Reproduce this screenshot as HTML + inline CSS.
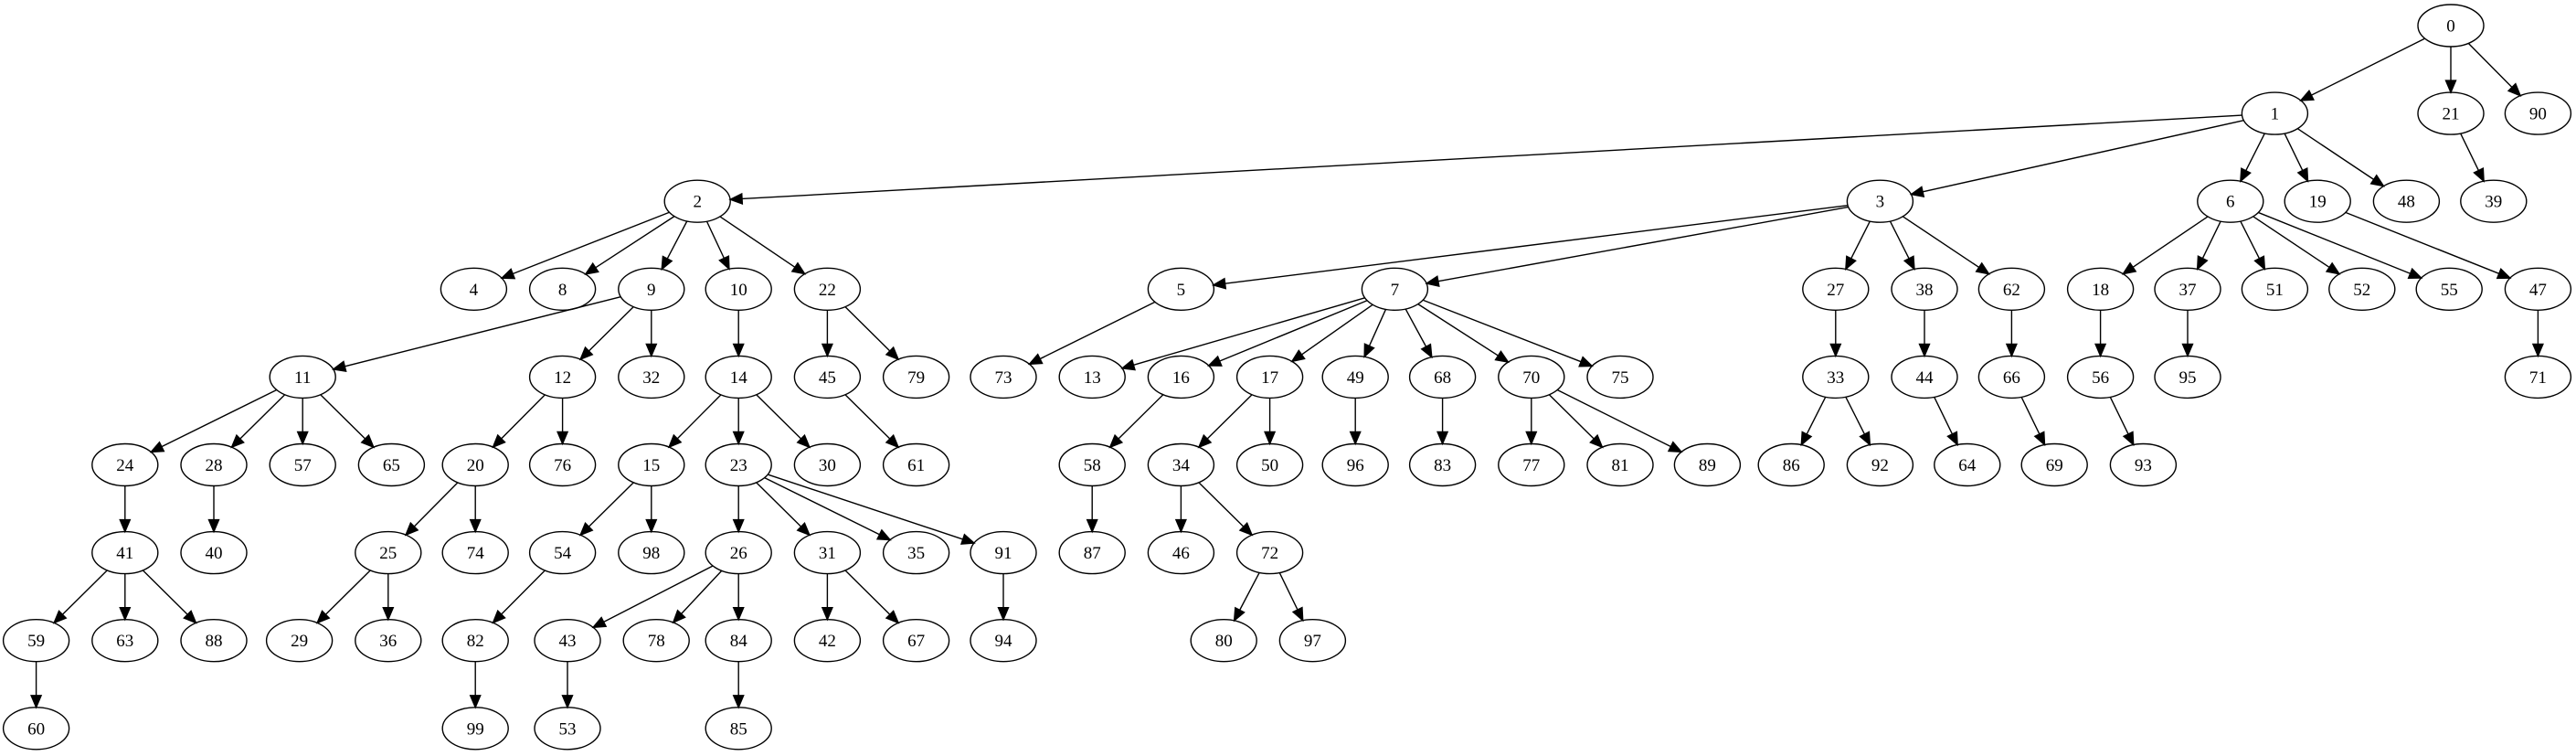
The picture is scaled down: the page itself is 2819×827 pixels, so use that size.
<!DOCTYPE html>
<html><head><meta charset="utf-8"><style>
html,body{margin:0;padding:0;background:#fff;}
svg{display:block;}
text{font-family:"Liberation Serif",serif;font-size:19px;}
</style></head><body>
<svg id="g" width="2819" height="827" xmlns="http://www.w3.org/2000/svg"></svg>
<script>
var ranks=[
[[0,1490]],
[[1,1383],[21,1490],[90,1543]],
[[2,424],[3,1143],[6,1356],[19,1409],[48,1463],[39,1516]],
[[4,288],[8,342],[9,396],[10,449],[22,503],[5,718],[7,848],[27,1116],[38,1170],[62,1223],[18,1277],[37,1330],[51,1383],[52,1436],[55,1489],[47,1543]],
[[11,184],[12,342],[32,396],[14,449],[45,503],[79,557],[73,610],[13,664],[16,718],[17,772],[49,824],[68,877],[70,931],[75,985],[33,1116],[44,1170],[66,1223],[56,1277],[95,1330],[71,1543]],
[[24,76],[28,130],[57,184],[65,238],[20,289],[76,342],[15,396],[23,449],[30,503],[61,557],[58,664],[34,718],[50,772],[96,824],[83,877],[77,931],[81,985],[89,1038],[86,1089],[92,1143],[64,1196],[69,1249],[93,1303]],
[[41,76],[40,130],[25,236],[74,289],[54,342],[98,396],[26,449],[31,503],[35,557],[91,610],[87,664],[46,718],[72,772]],
[[59,22],[63,76],[88,130],[29,182],[36,236],[82,289],[43,345],[78,399],[84,449],[42,503],[67,557],[94,610],[80,744],[97,798]],
[[60,22],[99,289],[53,345],[85,449]]];
var P={};
ranks.forEach(function(r,k){r.forEach(function(n){P[n[0]]=[n[1]*1.8,28+96.1*k];});});
var E={0:[1,21,90],21:[39],1:[2,3,6,19,48],19:[47],2:[4,8,9,10,22],9:[11,12,32],10:[14],22:[45,79],45:[61],11:[24,28,57,65],24:[41],28:[40],41:[59,63,88],59:[60],12:[20,76],20:[25,74],25:[29,36],14:[15,23,30],15:[54,98],54:[82],82:[99],23:[26,31,35,91],26:[43,78,84],43:[53],84:[85],31:[42,67],91:[94],3:[5,7,27,38,62],5:[73],7:[13,16,17,49,68,70,75],16:[58],58:[87],17:[34,50],34:[46,72],72:[80,97],49:[96],68:[83],70:[77,81,89],27:[33],33:[86,92],38:[44],44:[64],62:[66],66:[69],6:[18,37,51,52,55],18:[56],56:[93],37:[95],47:[71]};
var RX=36,RY=23,s='';
function bd(p,dx,dy){var t=1/Math.sqrt((dx/RX)*(dx/RX)+(dy/RY)*(dy/RY));return [p[0]+dx*t,p[1]+dy*t];}
for(var a in E){E[a].forEach(function(b){
 var p=P[a],q=P[b],dx=q[0]-p[0],dy=q[1]-p[1];
 var s1=bd(p,dx,dy),e=bd(q,-dx,-dy);
 var L=Math.hypot(e[0]-s1[0],e[1]-s1[1]),ux=(e[0]-s1[0])/L,uy=(e[1]-s1[1])/L;
 var bx=e[0]-ux*13,by=e[1]-uy*13;
 s+='<line x1="'+s1[0]+'" y1="'+s1[1]+'" x2="'+bx+'" y2="'+by+'" stroke="#000" stroke-width="1.4"/>';
 s+='<polygon points="'+e[0]+','+e[1]+' '+(bx-uy*5.5)+','+(by+ux*5.5)+' '+(bx+uy*5.5)+','+(by-ux*5.5)+'" fill="#000" stroke="#000" stroke-width="1.4"/>';
});}
for(var n in P){var p=P[n];
 s+='<ellipse cx="'+p[0]+'" cy="'+p[1]+'" rx="'+RX+'" ry="'+RY+'" fill="none" stroke="#000" stroke-width="1.4"/>';
 s+='<text x="'+p[0]+'" y="'+(p[1]+6.5)+'" text-anchor="middle">'+n+'</text>';}
document.getElementById('g').innerHTML=s;
</script>
</body></html>
